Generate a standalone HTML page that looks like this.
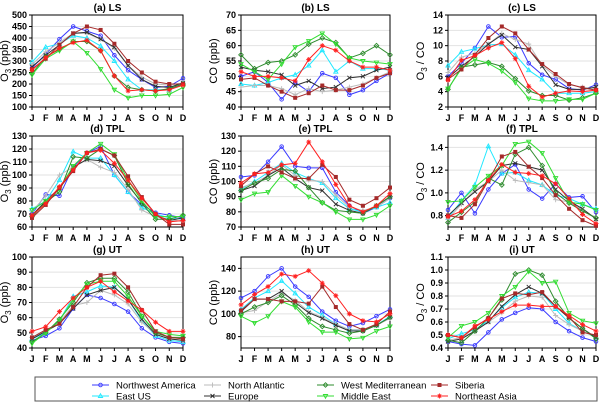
<!DOCTYPE html>
<html><head><meta charset="utf-8"><style>
body{margin:0;background:#fff;}
svg{display:block;font-family:"Liberation Sans",sans-serif;}
</style></head><body>
<svg id="c" width="600" height="403" viewBox="0 0 600 403"></svg>
<script>
const months=["J","F","M","A","M","J","J","A","S","O","N","D"];
// order of series in data arrays: NWA, EUS, NAtl, Eur, WMed, ME, Sib, NEA
const lsO3=[[270,330,395,450,430,410,325,260,220,185,190,225],[295,360,375,410,400,365,300,220,175,175,175,200],[285,340,380,420,420,395,355,280,230,200,195,205],[275,325,370,420,425,395,360,280,220,190,185,205],[245,320,350,385,385,345,235,185,175,170,180,200],[240,310,345,385,335,265,175,140,150,150,155,185],[265,310,370,420,450,435,375,300,250,210,200,200],[260,315,355,380,390,345,235,170,175,170,175,195]];
const lsCO=[[50,51.5,48,42.5,48,45,51,49.5,44,45.5,48.5,51],[47.5,47,48,49.5,50.5,53.5,58.5,51.5,55,52.5,52.5,52],[46.5,47,47,46,44,46,45,45.5,46.5,47.5,49.5,51.5],[53,52,51.5,50.5,47,48.5,46,46.5,49.5,50,52,53],[57,52.5,54.5,55,57,60.5,62.5,61,56,57.5,60,57],[54,51.5,49,54,59.5,61.5,64,60.5,56,55,54.5,54],[49,49.5,47,45,43,44.5,47,45.5,45.5,47,49.5,51],[51.5,50,50,49.5,48.5,55.5,60,58.5,55,53,53,52]];
const lsRatio=[[6,7.7,9.7,12.5,11.1,11.2,7.7,6.2,5.6,4.4,4.2,4.9],[7.4,9.2,9.6,10.1,10.2,8.8,6.8,5.6,3.8,3.8,3.8,4.0],[6.5,8.5,9.0,10.2,11.6,10.8,10.2,7.4,6,4.9,4.6,4.4],[5.8,7.3,8.6,10.2,11.4,9.8,9.5,7.3,4.9,4.3,4.3,4.6],[4.3,7.2,7.5,7.8,7.3,5.7,4.1,3.5,3.5,2.9,3.2,3.8],[4.4,7.0,8.2,7.7,6.7,5.2,3.1,2.8,2.8,3.0,3.0,3.8],[5.6,6.9,8.8,11.0,12.5,11.6,9.5,7.6,6.3,5.0,4.5,4.2],[5.5,8.1,8.7,9.7,10.4,8.3,4.7,3.3,3.8,4.1,4.0,4.2]];
const tplO3=[[70,85,84,106,117,122,100,87,77,71,69,67],[74,80,96,118,113,113,100,87,75,70,67,66],[72,84,100,106,112,106,102,89,73,68,66,64],[69,80,90,106,112,111,107,92,79,69,65,67],[68,79,87,114,113,120,115,93,78,66,66,69],[73,80,89,107,117,124,116,96,80,68,68,68],[67,77,90,103,117,120,115,99,83,70,62,62],[69,78,91,104,117,119,109,96,82,70,64,65]];
const tplCO=[[103,104,113,123,110,109,109,93,84,79,83,89],[95,100,106,112,106,102,99,89,82,80,83,86],[96,99,104,111,104,101,100,91,83,81,83,89],[94,97,104,109,102,96,94,85,81,79,84,90],[94,99,102,108,107,96,86,81,80,79,84,90],[88,92,93,104,97,90,86,80,75,75,78,84],[97,105,110,106,102,102,111,103,88,84,89,96],[99,105,106,111,112,126,113,98,84,80,84,92]];
const tplRatio=[[0.85,1.0,0.82,1.03,1.17,1.25,1.03,0.95,1.08,0.96,0.97,0.83],[0.78,0.93,1.07,1.41,1.17,1.18,1.11,1.07,0.98,0.95,0.9,0.86],[0.77,0.9,1.03,1.1,1.2,1.11,1.09,1.07,0.94,0.92,0.85,0.78],[0.8,0.91,1.01,1.1,1.24,1.26,1.23,1.2,1.03,0.93,0.86,0.77],[0.74,0.83,0.92,1.13,1.07,1.34,1.4,1.24,1.0,0.91,0.84,0.78],[0.92,0.93,1.05,1.15,1.24,1.43,1.45,1.35,1.13,0.92,0.9,0.85],[0.8,0.78,0.9,1.11,1.32,1.36,1.23,1.13,0.98,0.86,0.76,0.71],[0.79,0.84,0.94,1.11,1.25,1.18,1.17,1.15,1.08,0.95,0.81,0.73]];
const utO3=[[45,48,53,66,75,73,69,64,53,47,44,43],[46,50,58,74,77,81,80,72,58,48,45,44],[47,51,57,68,70,78,75,69,57,49,46,45],[46,51,56,66,75,78,80,72,59,49,46,45],[44,50,59,70,83,86,86,77,61,50,47,47],[43,50,58,72,82,84,84,74,61,51,49,48],[47,52,56,67,80,88,89,80,65,51,47,46],[51,54,64,73,80,84,77,71,65,57,51,51]];
const utCO=[[114,120,133,140,124,115,102,94,89,92,98,104],[104,114,120,129,118,106,99,91,86,86,90,98],[101,103,111,118,112,102,97,91,86,86,90,96],[102,113,113,120,110,101,96,90,85,85,90,97],[100,106,110,116,108,96,89,86,83,85,90,97],[98,92,98,111,106,93,84,84,78,79,85,89],[103,113,113,111,111,109,124,106,91,86,91,102],[108,117,124,135,133,138,127,116,100,94,93,100]];
const utRatio=[[0.45,0.43,0.42,0.52,0.62,0.67,0.71,0.7,0.6,0.53,0.48,0.45],[0.47,0.51,0.54,0.61,0.71,0.79,0.83,0.82,0.7,0.59,0.53,0.48],[0.46,0.48,0.53,0.6,0.67,0.76,0.8,0.79,0.65,0.58,0.53,0.48],[0.45,0.47,0.53,0.6,0.72,0.81,0.87,0.82,0.72,0.63,0.55,0.48],[0.46,0.44,0.53,0.63,0.77,0.97,1.0,0.96,0.76,0.63,0.55,0.47],[0.48,0.57,0.6,0.67,0.8,0.87,0.99,0.9,0.91,0.67,0.61,0.59],[0.5,0.48,0.56,0.63,0.78,0.82,0.81,0.83,0.72,0.64,0.52,0.5],[0.5,0.48,0.57,0.62,0.68,0.73,0.73,0.72,0.72,0.65,0.58,0.53]];
const ticksA=[100,150,200,250,300,350,400,450,500];
const ticksB=[40,45,50,55,60,65,70];
const ticksC=[2,4,6,8,10,12,14];
const ticksD=[60,70,80,90,100,110,120,130];
const ticksE=[70,80,90,100,110,120,130];
const ticksF=[0.8,1.0,1.2,1.4];
const ticksG=[40,50,60,70,80,90,100];
const ticksH=[80,100,120,140];
const ticksI=[0.4,0.5,0.6,0.7,0.8,0.9,1.0,1.1];

const S="http://www.w3.org/2000/svg";
const svg=document.getElementById('c');
function el(t,a,p){const e=document.createElementNS(S,t);for(const k in a)e.setAttribute(k,a[k]);(p||svg).appendChild(e);return e;}
const styles=[{c:"#3a3aff",m:"circle"},{c:"#22e8ff",m:"tri"},{c:"#bbbbbb",m:"plus"},{c:"#303030",m:"x"},{c:"#2e8b2e",m:"diamond"},{c:"#33dd33",m:"dtri"},{c:"#a52a2a",m:"square"},{c:"#ff2020",m:"star"}];
function marker(g,m,x,y,c){
 let e;
 if(m=="circle")e=el('circle',{cx:x,cy:y,r:1.8,fill:'none',stroke:c,'stroke-width':0.9},g);
 else if(m=="square")e=el('rect',{x:x-1.7,y:y-1.7,width:3.4,height:3.4,fill:c,stroke:c,'stroke-width':0.6},g);
 else if(m=="tri")e=el('path',{d:`M${x},${y-2.3}L${x+2.1},${y+1.5}L${x-2.1},${y+1.5}Z`,fill:'none',stroke:c,'stroke-width':0.9},g);
 else if(m=="dtri")e=el('path',{d:`M${x},${y+2.3}L${x+2.1},${y-1.5}L${x-2.1},${y-1.5}Z`,fill:'none',stroke:c,'stroke-width':0.9},g);
 else if(m=="diamond")e=el('path',{d:`M${x},${y-2.3}L${x+2.3},${y}L${x},${y+2.3}L${x-2.3},${y}Z`,fill:'none',stroke:c,'stroke-width':0.9},g);
 else if(m=="plus")e=el('path',{d:`M${x-2.5},${y}H${x+2.5}M${x},${y-2.5}V${y+2.5}`,stroke:c,'stroke-width':0.9},g);
 else if(m=="x")e=el('path',{d:`M${x-2},${y-2}L${x+2},${y+2}M${x-2},${y+2}L${x+2},${y-2}`,stroke:c,'stroke-width':0.9},g);
 else e=el('path',{d:`M${x-2.5},${y}H${x+2.5}M${x},${y-2.5}V${y+2.5}M${x-1.7},${y-1.7}L${x+1.7},${y+1.7}M${x-1.7},${y+1.7}L${x+1.7},${y-1.7}`,stroke:c,'stroke-width':0.9},g);
 
 
}
const cols=[[32,183],[241,390],[448,596]];
const rows=[[15,107],[136,227],[257,348]];
const panels=[
 {t:"(a)  LS",d:lsO3,tk:ticksA,lo:100,hi:500,yl:"o3",fx:0},
 {t:"(b)  LS",d:lsCO,tk:ticksB,lo:40,hi:70,yl:"CO (ppb)",fx:0},
 {t:"(c) LS",d:lsRatio,tk:ticksC,lo:2,hi:14,yl:"ratio",fx:0},
 {t:"(d)  TPL",d:tplO3,tk:ticksD,lo:60,hi:130,yl:"o3",fx:0},
 {t:"(e)  TPL",d:tplCO,tk:ticksE,lo:70,hi:130,yl:"CO (ppb)",fx:0},
 {t:"(f)  TPL",d:tplRatio,tk:ticksF,lo:0.7,hi:1.5,yl:"ratio",fx:1},
 {t:"(g)  UT",d:utO3,tk:ticksG,lo:40,hi:100,yl:"o3",fx:0},
 {t:"(h)  UT",d:utCO,tk:ticksH,lo:70,hi:150,yl:"CO (ppb)",fx:0},
 {t:"(i)  UT",d:utRatio,tk:ticksI,lo:0.4,hi:1.1,yl:"ratio",fx:1}];
panels.forEach((p,i)=>{
 const [x0,x1]=cols[i%3],[y0,y1]=rows[Math.floor(i/3)];
 const g=el('g',{});
 
 
 const X=k=>x0+k*(x1-x0)/11, Y=v=>y1-(v-p.lo)/(p.hi-p.lo)*(y1-y0);
 p.tk.forEach(v=>{
  const y=Y(v);
  if(v>p.lo&&v<p.hi)el('line',{x1:x0,x2:x1,y1:y,y2:y,stroke:'#e2e2e2','stroke-width':1},g);
  el('line',{x1:x0-3,x2:x0,y1:y,y2:y,stroke:'#000'},g);
  const t=el('text',{x:x0-5,y:y+3,'text-anchor':'end','font-size':9,'font-weight':'bold'},g);
  t.textContent=p.fx?v.toFixed(1):v;
  
  
 });
 el('rect',{x:x0,y:y0,width:x1-x0,height:y1-y0,fill:'none',stroke:'#000','stroke-width':1},g);
 months.forEach((m,k)=>{
  el('line',{x1:X(k),x2:X(k),y1:y1,y2:y1+3,stroke:'#000'},g);
  const t=el('text',{x:X(k),y:y1+14,'text-anchor':'middle','font-size':9,'font-weight':'bold'},g);
  t.textContent=m;
  
  
 });
 const tt=el('text',{x:(x0+x1)/2,y:y0-4,'text-anchor':'middle','font-size':10,'font-weight':'bold'},g);
 tt.textContent=p.t;
 
 
 const yx=x0-24,yy=(y0+y1)/2;
 const yt=el('text',{x:yx,y:yy,transform:`rotate(-90 ${yx} ${yy})`,'text-anchor':'middle','font-size':11},g);
 if(p.yl=="o3"){yt.innerHTML='O<tspan font-size="8" dy="3">3</tspan><tspan dy="-3"> (ppb)</tspan>';}
 else if(p.yl=="ratio"){yt.innerHTML='O<tspan font-size="8" dy="3">3</tspan><tspan dy="-3"> / CO</tspan>';}
 else yt.textContent=p.yl;
 
 
 p.d.forEach((s,j)=>{
  const st=styles[j];
  const pl=el('polyline',{points:s.map((v,k)=>X(k)+','+Y(v)).join(' '),fill:'none',stroke:st.c,'stroke-width':1},g);
  
  
  s.forEach((v,k)=>marker(g,st.m,X(k),Y(v),st.c));
 });
});
// legend
const lg=el('g',{});


el('rect',{x:35,y:377,width:562,height:24,fill:'#fff',stroke:'#555','stroke-width':1},lg);
const legendOrder=[[0,"Northwest America"],[1,"East US"],[2,"North Atlantic"],[3,"Europe"],[4,"West Mediterranean"],[5,"Middle East"],[6,"Siberia"],[7,"Northeast Asia"]];
const lcx=[92,204,317,431];
legendOrder.forEach(([si,name],n)=>{
 const cx=lcx[Math.floor(n/2)],cy=n%2?396:385;
 const st=styles[si];
 const e=el('g',{},lg);
 
 
 el('line',{x1:cx,x2:cx+17,y1:cy,y2:cy,stroke:st.c},e);
 marker(e,st.m,cx+8.5,cy,st.c);
 const t=el('text',{x:cx+24,y:cy+3.5,'font-size':9.5},e);
 t.textContent=name;
});
</script>
</body></html>
